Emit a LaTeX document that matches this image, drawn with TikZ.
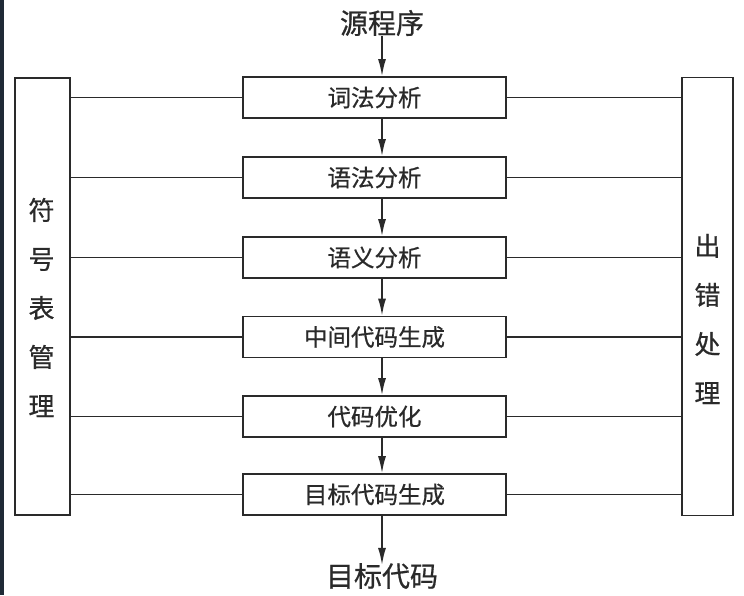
\documentclass[tikz,border=0pt]{standalone}
\usepackage{fontspec}
\newfontfamily\cjk[FakeBold=0.6]{Noto Sans CJK SC}
\usetikzlibrary{arrows.meta,positioning}
\definecolor{ink}{HTML}{2A2A2A}
\definecolor{edge}{HTML}{1F2A36}
\tikzset{
  stage/.style={draw=ink, line width=1.8pt, minimum width=263pt, minimum height=41pt,
    inner sep=0pt, font=\cjk\fontsize{23.5}{26}\selectfont, text=ink},
  sidebox/.style={draw=ink, line width=1.8pt, inner sep=0pt},
  sidetext/.style={font=\cjk\fontsize{26}{49}\selectfont, text=ink, align=center, inner sep=0pt},
  endtext/.style={font=\cjk\fontsize{28}{30}\selectfont, text=ink, inner sep=0pt},
  link/.style={draw=ink, line width=1.6pt},
  flow/.style={draw=ink, line width=1.6pt, -{Latex[length=17pt,width=8pt]}}
}
\begin{document}
\begin{tikzpicture}[x=1pt,y=-1pt]
\useasboundingbox (0,0) rectangle (744,595);
\fill[white] (0,0) rectangle (744,595);
\fill[edge] (0,0) rectangle (3.5,595);

% side boxes
\node[sidebox, minimum width=55pt, minimum height=437pt] (sym) at (42.5,296.5) {};
\node[sidebox, minimum width=51pt, minimum height=438pt] (err) at (707.5,296.5) {};
\node[sidetext] (symt) at (41.5,307.5) {符\\号\\表\\管\\理};
\node[sidetext] (errt) at (707.5,319) {出\\错\\处\\理};

% stages
\node[stage] (b1) at (374.5,97.5) {词法分析};
\node[stage] (b2) at (374.5,177.5) {语法分析};
\node[stage] (b3) at (374.5,257.5) {语义分析};
\node[stage] (b4) at (374.5,337) {中间代码生成};
\node[stage] (b5) at (374.5,416.5) {代码优化};
\node[stage] (b6) at (374.5,494.5) {目标代码生成};

% source / target
\node[endtext] (src) at (382,23) {源程序};
\node[endtext] (tgt) at (382,576) {目标代码};

% flow arrows
\draw[flow] (src.south) -- (b1.north -| src);
\draw[flow] (b1.south -| src) -- (b2.north -| src);
\draw[flow] (b2.south -| src) -- (b3.north -| src);
\draw[flow] (b3.south -| src) -- (b4.north -| src);
\draw[flow] (b4.south -| src) -- (b5.north -| src);
\draw[flow] (b5.south -| src) -- (b6.north -| src);
\draw[flow] (b6.south -| src) -- ([yshift=-2pt]tgt.north);

% side links
\foreach \b in {b1,b2,b3,b4,b5,b6}{
  \draw[link] (sym.east |- \b) -- (\b.west);
  \draw[link] (\b.east) -- (err.west |- \b);
}
\end{tikzpicture}
\end{document}
